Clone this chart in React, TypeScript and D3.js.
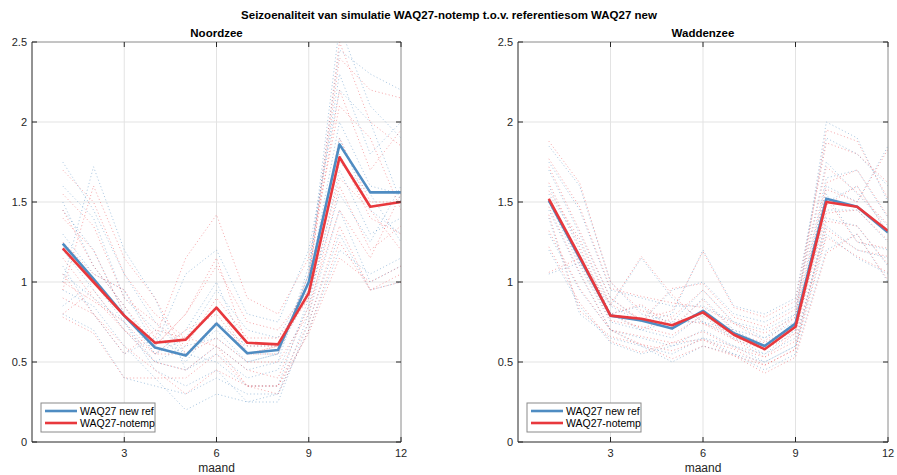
import React from 'react';
import * as d3 from 'd3';

const months = [1, 2, 3, 4, 5, 6, 7, 8, 9, 10, 11, 12];
const xTicks = [3, 6, 9, 12];
const yTicks = [0, 0.5, 1, 1.5, 2, 2.5];
const yTickLabels = ['0', '0.5', '1', '1.5', '2', '2.5'];
const legendLabels = ['WAQ27 new ref', 'WAQ27-notemp'];

// gemiddelden
const noordRef = [1.24, 1.02, 0.79, 0.59, 0.54, 0.74, 0.555, 0.575, 1.0, 1.86, 1.56, 1.56];
const noordNotemp = [1.21, 1.0, 0.79, 0.62, 0.64, 0.84, 0.62, 0.61, 0.93, 1.78, 1.47, 1.5];
const waddenRef = [1.51, 1.15, 0.79, 0.76, 0.71, 0.82, 0.68, 0.6, 0.74, 1.52, 1.47, 1.31];
const waddenNotemp = [1.52, 1.16, 0.79, 0.77, 0.73, 0.81, 0.67, 0.58, 0.72, 1.5, 1.47, 1.32];

// losse stations (gestippeld)
const noordStationsRef = [
  [1.75, 1.45, 1.05, 0.75, 0.55, 0.7, 0.5, 0.55, 1.05, 2.6, 2.1, 1.9],
  [1.0, 1.72, 1.2, 0.9, 0.45, 0.6, 0.45, 0.5, 1.1, 2.3, 1.8, 2.0],
  [1.5, 1.1, 0.85, 0.55, 0.65, 0.95, 0.7, 0.65, 1.0, 2.0, 1.6, 1.55],
  [1.2, 0.95, 0.7, 0.5, 0.45, 0.55, 0.4, 0.45, 0.85, 1.7, 1.3, 1.4],
  [0.85, 1.0, 0.75, 0.45, 0.35, 0.45, 0.25, 0.3, 0.8, 1.45, 1.0, 1.1],
  [1.3, 1.05, 0.95, 0.6, 1.05, 1.2, 0.8, 0.75, 1.2, 2.2, 2.0, 1.5],
  [0.95, 0.85, 0.6, 0.4, 0.2, 0.3, 0.25, 0.25, 0.75, 1.3, 0.95, 1.0],
  [1.6, 1.4, 0.9, 0.7, 0.5, 0.75, 0.6, 0.6, 0.95, 1.9, 1.45, 1.3],
  [1.1, 0.8, 0.55, 0.65, 0.55, 0.5, 0.35, 0.35, 0.9, 1.55, 1.25, 1.6],
  [1.45, 1.2, 0.8, 0.55, 0.7, 1.0, 0.55, 0.55, 1.05, 2.45, 2.3, 2.2],
  [1.05, 0.9, 0.75, 0.5, 0.6, 0.65, 0.5, 0.55, 0.95, 1.75, 1.55, 1.25],
  [0.8, 0.7, 0.4, 0.35, 0.3, 0.4, 0.3, 0.3, 0.7, 1.2, 1.05, 1.15],
];
const noordStationsNotemp = [
  [1.7, 1.5, 1.05, 0.8, 0.65, 0.85, 0.55, 0.6, 1.0, 2.5, 2.0, 1.85],
  [0.95, 1.6, 1.15, 0.9, 0.55, 0.75, 0.55, 0.55, 1.05, 2.2, 1.7, 1.95],
  [1.45, 1.1, 0.85, 0.6, 0.8, 1.1, 0.75, 0.7, 0.95, 1.9, 1.5, 1.5],
  [1.15, 0.9, 0.7, 0.55, 0.55, 0.65, 0.5, 0.5, 0.8, 1.6, 1.2, 1.35],
  [0.8, 0.95, 0.7, 0.5, 0.45, 0.6, 0.35, 0.35, 0.75, 1.35, 0.95, 1.05],
  [1.25, 1.05, 0.95, 0.65, 1.15, 1.42, 0.9, 0.8, 1.15, 2.1, 1.9, 1.45],
  [0.9, 0.8, 0.6, 0.45, 0.3, 0.45, 0.35, 0.3, 0.7, 1.25, 0.95, 1.0],
  [1.55, 1.35, 0.9, 0.75, 0.6, 0.9, 0.65, 0.65, 0.9, 1.8, 1.4, 1.3],
  [1.05, 0.8, 0.55, 0.7, 0.65, 0.6, 0.45, 0.4, 0.85, 1.45, 1.15, 1.55],
  [1.4, 1.2, 0.8, 0.6, 0.8, 1.15, 0.6, 0.6, 1.0, 2.4, 2.2, 2.15],
  [1.0, 0.88, 0.75, 0.55, 0.7, 0.8, 0.55, 0.6, 0.9, 1.65, 1.45, 1.2],
  [0.78, 0.68, 0.4, 0.4, 0.4, 0.55, 0.35, 0.35, 0.68, 1.15, 1.0, 1.1],
];
const waddenStationsRef = [
  [1.85, 1.6, 1.0, 0.8, 0.75, 0.95, 0.75, 0.7, 0.8, 2.0, 1.9, 1.5],
  [1.05, 1.12, 0.85, 1.15, 0.9, 0.75, 0.7, 0.65, 0.75, 1.6, 1.5, 1.85],
  [1.7, 1.3, 0.9, 0.75, 0.95, 1.0, 0.8, 0.75, 0.85, 1.75, 1.55, 1.35],
  [1.5, 1.1, 0.75, 0.7, 0.65, 0.8, 0.65, 0.55, 0.7, 1.45, 1.45, 1.25],
  [1.4, 0.8, 0.65, 0.6, 0.55, 0.65, 0.6, 0.5, 0.6, 1.3, 1.15, 1.05],
  [1.6, 1.2, 0.8, 0.85, 0.7, 0.9, 0.7, 0.6, 0.75, 1.5, 1.6, 1.3],
  [1.3, 0.95, 0.7, 0.6, 0.5, 0.6, 0.55, 0.45, 0.55, 1.2, 1.3, 1.0],
  [1.55, 1.25, 0.85, 0.75, 0.8, 1.2, 0.85, 0.8, 0.9, 1.9, 1.8, 1.6],
  [1.45, 1.05, 0.7, 0.65, 0.6, 0.7, 0.6, 0.55, 0.65, 1.35, 1.2, 1.15],
  [1.75, 1.45, 0.95, 0.9, 0.85, 0.85, 0.75, 0.65, 0.8, 1.65, 1.7, 1.4],
  [1.2, 0.85, 0.62, 0.55, 0.6, 0.65, 0.55, 0.5, 0.6, 1.4, 1.35, 1.1],
  [1.5, 1.15, 0.8, 0.7, 0.75, 0.75, 0.65, 0.6, 0.7, 1.55, 1.25, 1.2],
];
const waddenStationsNotemp = [
  [1.88, 1.62, 1.0, 0.82, 0.78, 0.95, 0.74, 0.68, 0.78, 1.95, 1.88, 1.52],
  [1.06, 1.15, 0.86, 1.16, 0.92, 0.74, 0.68, 0.62, 0.73, 1.58, 1.5, 1.83],
  [1.72, 1.32, 0.9, 0.76, 0.96, 0.99, 0.78, 0.72, 0.83, 1.72, 1.56, 1.36],
  [1.52, 1.12, 0.76, 0.72, 0.67, 0.79, 0.64, 0.53, 0.68, 1.43, 1.45, 1.26],
  [1.42, 0.82, 0.66, 0.61, 0.57, 0.64, 0.58, 0.48, 0.58, 1.28, 1.16, 1.06],
  [1.62, 1.22, 0.8, 0.86, 0.72, 0.89, 0.69, 0.58, 0.73, 1.48, 1.6, 1.31],
  [1.32, 0.96, 0.7, 0.61, 0.52, 0.6, 0.54, 0.43, 0.53, 1.18, 1.3, 1.01],
  [1.57, 1.27, 0.86, 0.77, 0.82, 1.19, 0.84, 0.78, 0.88, 1.87, 1.8, 1.62],
  [1.47, 1.06, 0.7, 0.66, 0.62, 0.69, 0.59, 0.53, 0.63, 1.33, 1.2, 1.16],
  [1.77, 1.47, 0.96, 0.91, 0.87, 0.84, 0.74, 0.63, 0.78, 1.62, 1.7, 1.41],
  [1.22, 0.87, 0.63, 0.56, 0.62, 0.64, 0.54, 0.48, 0.58, 1.38, 1.35, 1.11],
  [1.52, 1.17, 0.8, 0.71, 0.77, 0.74, 0.64, 0.58, 0.68, 1.52, 1.25, 1.21],
];

const BLUE = '#4f8cc2';
const RED = '#e8383d';
const AX = '#262626';
const FONT = '"Liberation Sans", Arial, Helvetica, sans-serif';

type PanelProps = {
  id: string;
  title: string;
  x0: number;
  x1: number;
  ref0: number[];
  note0: number[];
  stRef: number[][];
  stNote: number[][];
};

function Panel({ id, title, x0, x1, ref0, note0, stRef, stNote }: PanelProps) {
  const top = 42, bottom = 442;
  const x = d3.scaleLinear().domain([0, 12]).range([x0, x1]);
  const y = d3.scaleLinear().domain([0, 2.5]).range([bottom, top]);
  const line = d3.line<number>().x((d, i) => x(months[i])).y(d => y(d));
  const tick = 5;

  return (
    <g>
      <defs>
        <clipPath id={'clip-' + id}>
          <rect x={x0} y={top} width={x1 - x0} height={bottom - top} />
        </clipPath>
      </defs>
      <rect x={x0} y={top} width={x1 - x0} height={bottom - top} fill="#fff" />
      {/* grid */}
      {xTicks.slice(0, 3).map(t => (
        <line key={'gx' + t} x1={x(t)} x2={x(t)} y1={top} y2={bottom} stroke="#e3e3e3" strokeWidth={1} />
      ))}
      {yTicks.slice(1, 5).map(t => (
        <line key={'gy' + t} x1={x0} x2={x1} y1={y(t)} y2={y(t)} stroke="#e3e3e3" strokeWidth={1} />
      ))}
      <g clipPath={`url(#clip-${id})`}>
        {stRef.map((s, i) => (
          <path key={'sr' + i} d={line(s) || ''} fill="none" stroke={BLUE} strokeWidth={1}
            strokeDasharray="1,2.5" opacity={0.5} />
        ))}
        {stNote.map((s, i) => (
          <path key={'sn' + i} d={line(s) || ''} fill="none" stroke={RED} strokeWidth={1}
            strokeDasharray="1,2.5" opacity={0.45} />
        ))}
        <path d={line(ref0) || ''} fill="none" stroke={BLUE} strokeWidth={2.6} strokeLinejoin="round" />
        <path d={line(note0) || ''} fill="none" stroke={RED} strokeWidth={2.6} strokeLinejoin="round" />
      </g>
      {/* box */}
      <line x1={x0} x2={x1} y1={top} y2={top} stroke="#8a8a8a" strokeWidth={1} />
      <line x1={x1} x2={x1} y1={top} y2={bottom} stroke="#8a8a8a" strokeWidth={1} />
      <line x1={x0} x2={x1} y1={bottom} y2={bottom} stroke={AX} strokeWidth={1} />
      <line x1={x0} x2={x0} y1={top} y2={bottom} stroke={AX} strokeWidth={1} />
      {xTicks.map(t => (
        <g key={'tx' + t}>
          <line x1={x(t)} x2={x(t)} y1={bottom} y2={bottom - tick} stroke={AX} />
          <line x1={x(t)} x2={x(t)} y1={top} y2={top + tick} stroke={AX} />
          <text x={x(t)} y={457} textAnchor="middle" fontSize={11} fill={AX} fontFamily={FONT}>{t}</text>
        </g>
      ))}
      {yTicks.map((t, i) => (
        <g key={'ty' + t}>
          <line x1={x0} x2={x0 + tick} y1={y(t)} y2={y(t)} stroke={AX} />
          <line x1={x1} x2={x1 - tick} y1={y(t)} y2={y(t)} stroke={AX} />
          <text x={x0 - 5} y={y(t) + 4} textAnchor="end" fontSize={11} fill={AX} fontFamily={FONT}>{yTickLabels[i]}</text>
        </g>
      ))}
      <text x={(x0 + x1) / 2} y={472} textAnchor="middle" fontSize={12} fill={AX} fontFamily={FONT}>maand</text>
      <text x={(x0 + x1) / 2} y={37} textAnchor="middle" fontSize={11.5} fontWeight="bold" fill="#000" fontFamily={FONT}>{title}</text>
      {/* legend */}
      <g transform={`translate(${x0 + 9},403)`}>
        <rect x={0} y={0} width={114} height={29} fill="#fff" stroke="#8a8a8a" strokeWidth={1} />
        {[BLUE, RED].map((c, i) => (
          <g key={'lg' + i}>
            <line x1={4} x2={36} y1={8 + i * 12} y2={8 + i * 12} stroke={c} strokeWidth={2.6} />
            <text x={39} y={12 + i * 12} fontSize={10.5} fill="#000" fontFamily={FONT}>{legendLabels[i]}</text>
          </g>
        ))}
      </g>
    </g>
  );
}

export default function App() {
  return (
    <svg width={897} height={475} style={{ position: 'absolute', left: 0, top: 0, background: '#fff' }}>
      <rect width={897} height={475} fill="#fff" />
      <text x={449} y={19} textAnchor="middle" fontSize={11.5} fontWeight="bold" fill="#000" fontFamily={FONT}>
        Seizoenaliteit van simulatie WAQ27-notemp t.o.v. referentiesom WAQ27 new
      </text>
      <Panel id="n" title="Noordzee" x0={32} x1={401} ref0={noordRef} note0={noordNotemp}
        stRef={noordStationsRef} stNote={noordStationsNotemp} />
      <Panel id="w" title="Waddenzee" x0={518} x1={888} ref0={waddenRef} note0={waddenNotemp}
        stRef={waddenStationsRef} stNote={waddenStationsNotemp} />
    </svg>
  );
}
